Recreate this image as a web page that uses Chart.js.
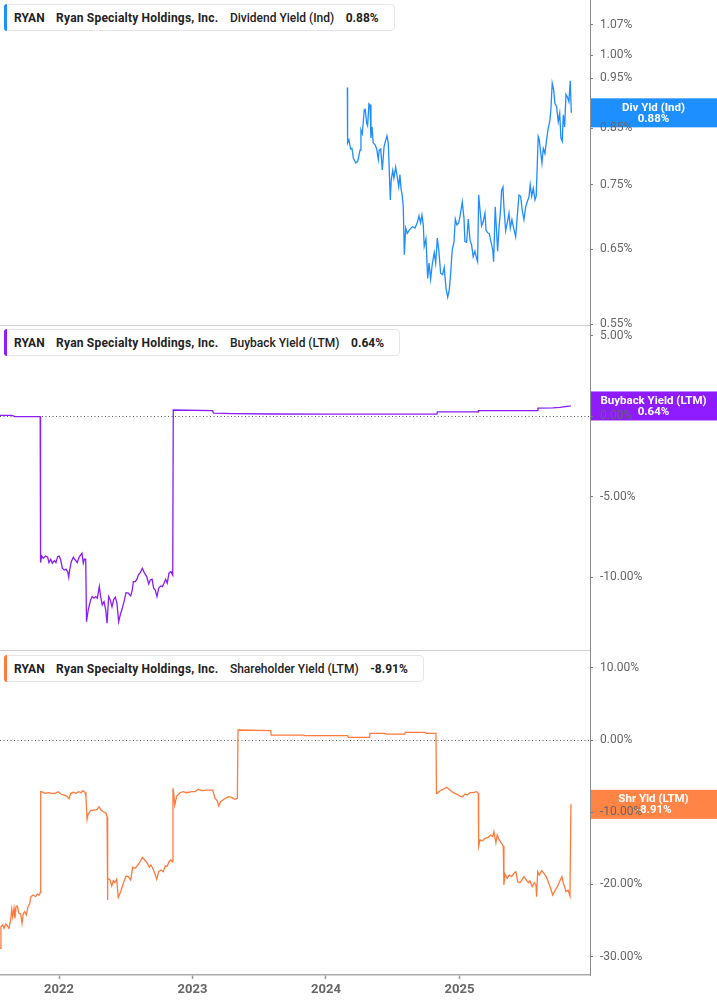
<!DOCTYPE html>
<html>
<head>
<meta charset="utf-8">
<script src="https://cdn.jsdelivr.net/npm/chart.js@4.4.1/dist/chart.umd.min.js"></script>
<style>
  html, body { margin: 0; padding: 0; background: #fff; }
  body { width: 717px; height: 1005px; position: relative; overflow: hidden; font-family: Roboto, "Noto Sans", sans-serif; }
  .pane { position: absolute; left: 0; width: 717px; }
  .legend {
    position: absolute; left: 4px; height: 25px; box-sizing: content-box;
    display: flex; align-items: center; gap: 11.5px;
    padding: 0 15px 0 9px; background: #fff;
    border: 1px solid #e6e6e6; border-radius: 4px;
    font-size: 12px; color: #222; white-space: nowrap; z-index: 5;
  }
  .legend i { position: absolute; left: -1px; top: -1px; bottom: -1px; width: 3px; border-radius: 3px 0 0 3px; }
  .legend b { font-weight: 700; }
  .legend b.co { letter-spacing: 0.2px; }
  .legend span { font-weight: 500; }
</style>
</head>
<body>

<div class="pane" style="top:-15px;height:355px"><canvas id="chartDiv" width="717" height="355"></canvas></div>
<div class="pane" style="top:310px;height:355px"><canvas id="chartBuyback" width="717" height="355"></canvas></div>
<div class="pane" style="top:635px;height:370px"><canvas id="chartShr" width="717" height="370"></canvas></div>

<div class="legend" style="top:4px"><i style="background:#1e8fff"></i><b>RYAN</b><b class="co">Ryan Specialty Holdings, Inc.</b><span>Dividend Yield (Ind)</span><b>0.88%</b></div>
<div class="legend" style="top:329px"><i style="background:#8f1bff"></i><b>RYAN</b><b class="co">Ryan Specialty Holdings, Inc.</b><span>Buyback Yield (LTM)</span><b>0.64%</b></div>
<div class="legend" style="top:655px"><i style="background:#ff7a3d"></i><b>RYAN</b><b class="co">Ryan Specialty Holdings, Inc.</b><span>Shareholder Yield (LTM)</span><b>-8.91%</b></div>

<script>
(function () {
  'use strict';

  // ─── Data (time in fractional years) ─────────────────
  var X_MIN = 2021.558;
  var X_MAX = 2025.978;
  var yearTicks = [2022, 2023, 2024, 2025];

  var divTicks = [1.07, 1.00, 0.95, 0.85, 0.75, 0.65, 0.55];
  var buybackTicks = [5, 0, -5, -10];
  var shrTicks = [10, 0, -10, -20, -30];

  var divTime = [
    2024.160, 2024.162, 2024.172, 2024.185, 2024.195, 2024.205, 2024.223, 2024.238, 2024.255, 2024.262,
    2024.272, 2024.287, 2024.294, 2024.305, 2024.312, 2024.322, 2024.330, 2024.337, 2024.345, 2024.354,
    2024.367, 2024.380, 2024.392, 2024.399, 2024.410, 2024.422, 2024.435, 2024.449, 2024.457, 2024.467,
    2024.474, 2024.482, 2024.489, 2024.500, 2024.509, 2024.522, 2024.534, 2024.545, 2024.554, 2024.562,
    2024.572, 2024.579, 2024.587, 2024.597, 2024.609, 2024.624, 2024.637, 2024.649, 2024.667, 2024.684,
    2024.697, 2024.709, 2024.719, 2024.729, 2024.736, 2024.749, 2024.762, 2024.772, 2024.784, 2024.796,
    2024.811, 2024.822, 2024.834, 2024.846, 2024.859, 2024.874, 2024.886, 2024.899, 2024.912, 2024.924,
    2024.934, 2024.946, 2024.959, 2024.969, 2024.981, 2024.994, 2025.006, 2025.021, 2025.034, 2025.041,
    2025.054, 2025.066, 2025.079, 2025.091, 2025.103, 2025.116, 2025.129, 2025.136, 2025.144, 2025.154,
    2025.166, 2025.178, 2025.191, 2025.199, 2025.211, 2025.223, 2025.236, 2025.249, 2025.256, 2025.268,
    2025.279, 2025.286, 2025.298, 2025.309, 2025.316, 2025.326, 2025.333, 2025.346, 2025.358, 2025.371,
    2025.381, 2025.393, 2025.406, 2025.421, 2025.433, 2025.446, 2025.458, 2025.470, 2025.483, 2025.496,
    2025.508, 2025.521, 2025.530, 2025.541, 2025.553, 2025.566, 2025.575, 2025.583, 2025.590, 2025.598,
    2025.608, 2025.618, 2025.628, 2025.640, 2025.653, 2025.665, 2025.678, 2025.685, 2025.695, 2025.706,
    2025.715, 2025.728, 2025.740, 2025.751, 2025.760, 2025.770, 2025.778, 2025.788, 2025.798, 2025.808,
    2025.820, 2025.830, 2025.838
  ];
  var divValue = [
    0.931, 0.823, 0.829, 0.812, 0.813, 0.796, 0.787, 0.790, 0.810, 0.847,
    0.840, 0.886, 0.887, 0.860, 0.855, 0.898, 0.896, 0.832, 0.853, 0.823,
    0.820, 0.812, 0.793, 0.810, 0.812, 0.775, 0.816, 0.829, 0.836, 0.823,
    0.775, 0.725, 0.758, 0.774, 0.761, 0.780, 0.763, 0.747, 0.767, 0.744,
    0.731, 0.714, 0.642, 0.681, 0.673, 0.678, 0.681, 0.683, 0.681, 0.689,
    0.700, 0.689, 0.701, 0.686, 0.654, 0.665, 0.609, 0.630, 0.608, 0.628,
    0.645, 0.630, 0.666, 0.647, 0.616, 0.614, 0.624, 0.596, 0.584, 0.594,
    0.616, 0.649, 0.660, 0.695, 0.686, 0.689, 0.701, 0.722, 0.696, 0.661,
    0.660, 0.695, 0.663, 0.656, 0.639, 0.647, 0.636, 0.632, 0.733, 0.709,
    0.684, 0.691, 0.704, 0.678, 0.674, 0.673, 0.661, 0.649, 0.632, 0.714,
    0.673, 0.647, 0.686, 0.712, 0.741, 0.746, 0.714, 0.677, 0.689, 0.704,
    0.681, 0.694, 0.681, 0.668, 0.699, 0.733, 0.731, 0.709, 0.694, 0.714,
    0.722, 0.730, 0.750, 0.731, 0.744, 0.725, 0.731, 0.784, 0.835, 0.829,
    0.807, 0.787, 0.813, 0.804, 0.829, 0.850, 0.866, 0.886, 0.940, 0.926,
    0.899, 0.892, 0.863, 0.879, 0.832, 0.826, 0.876, 0.853, 0.917, 0.912,
    0.902, 0.945, 0.880
  ];

  var buybackTime = [
    2021.558, 2021.648, 2021.670, 2021.859, 2021.862, 2021.870, 2021.882, 2021.900, 2021.915, 2021.925,
    2021.938, 2021.950, 2021.965, 2021.977, 2021.990, 2022.002, 2022.013, 2022.025, 2022.040, 2022.052,
    2022.065, 2022.073, 2022.080, 2022.092, 2022.107, 2022.122, 2022.137, 2022.150, 2022.163, 2022.172,
    2022.182, 2022.190, 2022.200, 2022.206, 2022.219, 2022.237, 2022.249, 2022.262, 2022.275, 2022.287,
    2022.302, 2022.312, 2022.324, 2022.337, 2022.350, 2022.360, 2022.372, 2022.384, 2022.397, 2022.410,
    2022.422, 2022.434, 2022.447, 2022.459, 2022.474, 2022.487, 2022.502, 2022.519, 2022.537, 2022.549,
    2022.557, 2022.572, 2022.584, 2022.594, 2022.609, 2022.624, 2022.639, 2022.657, 2022.672, 2022.684,
    2022.697, 2022.709, 2022.721, 2022.734, 2022.747, 2022.762, 2022.774, 2022.787, 2022.799, 2022.811,
    2022.824, 2022.839, 2022.852, 2022.856, 2023.151, 2023.157, 2023.300, 2023.600, 2024.000, 2024.500,
    2024.831, 2024.835, 2025.139, 2025.142, 2025.584, 2025.588, 2025.700, 2025.753, 2025.835
  ];
  var buybackValue = [
    0.05, 0.05, -0.02, -0.02, -9.09, -8.68, -8.82, -8.68, -8.76, -9.09,
    -8.88, -9.13, -8.97, -9.09, -8.72, -8.68, -8.93, -9.44, -9.55, -9.50,
    -9.65, -10.00, -9.55, -9.03, -8.76, -8.93, -9.09, -8.76, -8.61, -8.51,
    -9.13, -8.88, -8.88, -12.76, -12.03, -11.41, -11.20, -11.30, -11.20, -11.30,
    -10.58, -11.20, -11.72, -11.52, -12.03, -12.86, -11.20, -11.41, -11.83, -11.37,
    -11.24, -11.61, -12.76, -12.34, -11.93, -11.52, -10.96, -10.99, -11.16, -10.79,
    -10.27, -10.27, -10.12, -9.86, -9.71, -9.44, -9.71, -9.96, -10.42, -10.17,
    -10.12, -10.68, -10.79, -11.20, -10.68, -10.54, -10.58, -10.37, -10.12, -10.37,
    -9.75, -9.65, -9.86, 0.39, 0.35, 0.19, 0.16, 0.14, 0.13, 0.13,
    0.13, 0.27, 0.27, 0.35, 0.35, 0.50, 0.52, 0.55, 0.64
  ];

  var shrTime = [
    2021.558, 2021.565, 2021.578, 2021.588, 2021.601, 2021.613, 2021.625, 2021.638, 2021.646, 2021.653,
    2021.663, 2021.670, 2021.678, 2021.688, 2021.700, 2021.713, 2021.723, 2021.733, 2021.743, 2021.755,
    2021.768, 2021.780, 2021.790, 2021.807, 2021.825, 2021.837, 2021.852, 2021.860, 2021.863, 2021.870,
    2021.895, 2021.920, 2021.945, 2021.970, 2021.995, 2022.013, 2022.037, 2022.058, 2022.075, 2022.088,
    2022.107, 2022.127, 2022.148, 2022.167, 2022.178, 2022.195, 2022.202, 2022.210, 2022.219, 2022.237,
    2022.262, 2022.287, 2022.300, 2022.315, 2022.332, 2022.352, 2022.360, 2022.362, 2022.367, 2022.382,
    2022.395, 2022.407, 2022.419, 2022.432, 2022.444, 2022.462, 2022.482, 2022.502, 2022.519, 2022.537,
    2022.552, 2022.569, 2022.586, 2022.607, 2022.624, 2022.642, 2022.659, 2022.676, 2022.689, 2022.702,
    2022.717, 2022.732, 2022.747, 2022.764, 2022.781, 2022.796, 2022.811, 2022.824, 2022.837, 2022.849,
    2022.854, 2022.859, 2022.867, 2022.882, 2022.906, 2022.931, 2022.956, 2022.994, 2023.019, 2023.043,
    2023.069, 2023.106, 2023.151, 2023.169, 2023.186, 2023.196, 2023.211, 2023.236, 2023.268, 2023.294,
    2023.318, 2023.336, 2023.341, 2023.586, 2023.590, 2023.835, 2023.839, 2024.163, 2024.166, 2024.327,
    2024.330, 2024.440, 2024.450, 2024.591, 2024.595, 2024.740, 2024.750, 2024.824, 2024.828, 2024.834,
    2024.854, 2024.879, 2024.904, 2024.929, 2024.954, 2024.979, 2025.004, 2025.024, 2025.041, 2025.058,
    2025.079, 2025.103, 2025.129, 2025.141, 2025.144, 2025.154, 2025.174, 2025.191, 2025.216, 2025.234,
    2025.249, 2025.258, 2025.273, 2025.283, 2025.298, 2025.316, 2025.328, 2025.333, 2025.341, 2025.358,
    2025.373, 2025.391, 2025.408, 2025.423, 2025.436, 2025.453, 2025.471, 2025.483, 2025.498, 2025.516,
    2025.528, 2025.545, 2025.560, 2025.573, 2025.578, 2025.586, 2025.598, 2025.616, 2025.633, 2025.648,
    2025.665, 2025.683, 2025.698, 2025.716, 2025.733, 2025.753, 2025.768, 2025.778, 2025.788, 2025.798,
    2025.813, 2025.828, 2025.835
  ];
  var shrValue = [
    -28.85, -25.86, -25.62, -26.08, -25.48, -25.76, -26.08, -24.93, -23.45, -24.47,
    -23.31, -24.70, -23.09, -22.99, -24.00, -24.10, -25.39, -24.00, -23.78, -24.24,
    -23.09, -22.71, -21.70, -21.47, -21.70, -21.33, -21.47, -21.15, -7.16, -7.16,
    -7.38, -7.30, -7.38, -7.38, -7.16, -7.48, -7.62, -7.76, -8.13, -7.38,
    -7.24, -7.38, -7.16, -7.30, -7.02, -7.24, -7.85, -10.98, -10.25, -9.79,
    -9.70, -9.60, -9.24, -9.70, -9.93, -10.15, -10.62, -22.16, -19.16, -19.39,
    -20.22, -19.49, -19.76, -19.29, -21.79, -21.01, -19.85, -18.84, -18.93, -19.39,
    -17.63, -17.77, -17.45, -16.86, -16.25, -16.62, -16.99, -17.63, -17.31, -17.77,
    -18.46, -19.29, -18.24, -18.01, -18.24, -17.45, -17.45, -16.86, -16.62, -16.86,
    -6.69, -7.30, -9.00, -7.76, -7.30, -7.16, -7.30, -7.16, -7.16, -6.83,
    -7.02, -6.93, -6.93, -8.07, -8.41, -9.14, -8.55, -8.21, -7.85, -7.94,
    -8.21, -8.07, 1.39, 1.30, 0.69, 0.69, 0.60, 0.60, 0.37, 0.37,
    0.93, 0.93, 0.83, 0.83, 1.07, 1.07, 0.93, 0.93, -7.38, -7.38,
    -7.02, -6.83, -6.55, -6.93, -7.30, -7.48, -7.76, -7.85, -7.48, -7.62,
    -7.30, -7.30, -7.16, -7.38, -14.68, -13.85, -13.95, -13.61, -13.48, -13.16,
    -13.39, -12.70, -14.22, -13.16, -13.85, -14.31, -14.68, -20.08, -18.56, -19.16,
    -18.70, -18.93, -18.46, -18.24, -19.63, -19.76, -19.29, -18.93, -19.29, -19.76,
    -19.49, -20.32, -19.76, -20.08, -21.70, -18.24, -18.70, -18.10, -18.46, -18.84,
    -19.63, -20.54, -21.47, -20.87, -20.32, -19.49, -18.93, -19.85, -20.32, -21.01,
    -20.78, -21.61, -8.91
  ];

  // ─── Helpers ──────────────────────────────────────────
  var FONT = 'Roboto, "Noto Sans", sans-serif';

  function toPoints(t, v) {
    return t.map(function (x, i) { return { x: x, y: v[i] }; });
  }

  function pct(v) { return Number(v).toFixed(2) + '%'; }

  // Tag with the last value at the right axis (drawn under the tick labels)
  var lastTagPlugin = {
    id: 'lastTag',
    beforeDraw: function (chart, args, o) {
      if (!o || !o.title) return;
      var data = chart.data.datasets[0].data;
      var last = data[data.length - 1];
      var y = chart.scales.y.getPixelForValue(last.y);
      var a = chart.chartArea;
      var ctx = chart.ctx;
      var cx = (a.right + chart.width) / 2;
      ctx.save();
      ctx.fillStyle = o.color;
      ctx.fillRect(a.right + 1, y - 14.5, chart.width - a.right, 29);
      ctx.fillStyle = '#ffffff';
      ctx.font = 'bold 11.5px ' + FONT;
      ctx.textAlign = 'center';
      ctx.textBaseline = 'middle';
      ctx.fillText(o.title, cx, y - 5);
      ctx.fillText(pct(last.y), cx, y + 6);
      ctx.restore();
    }
  };

  // Dotted zero line and panel divider
  var guidesPlugin = {
    id: 'guides',
    beforeDatasetsDraw: function (chart, args, o) {
      var a = chart.chartArea;
      var ctx = chart.ctx;
      ctx.save();
      if (o.zero) {
        var y0 = Math.round(chart.scales.y.getPixelForValue(0)) + 0.5;
        ctx.strokeStyle = '#555';
        ctx.lineWidth = 1;
        ctx.setLineDash([1, 2.5]);
        ctx.beginPath();
        ctx.moveTo(a.left, y0);
        ctx.lineTo(a.right, y0);
        ctx.stroke();
        ctx.setLineDash([]);
      }
      if (o.divider) {
        var yb = Math.round(a.bottom) + 0.5;
        ctx.strokeStyle = '#cfcfcf';
        ctx.lineWidth = 1;
        ctx.beginPath();
        ctx.moveTo(a.left, yb);
        ctx.lineTo(a.right, yb);
        ctx.stroke();
      }
      ctx.restore();
    }
  };

  function yScale(type, min, max, ticks) {
    return {
      type: type,
      position: 'right',
      min: min,
      max: max,
      afterFit: function (s) { s.width = 127; },
      afterBuildTicks: function (s) {
        s.ticks = ticks.map(function (v) { return { value: v }; });
      },
      grid: { drawOnChartArea: false, drawTicks: true, tickLength: 3, tickColor: '#777', tickWidth: 1 },
      border: { display: true, color: '#8c8c8c', width: 1 },
      ticks: {
        color: '#666',
        font: { family: FONT, size: 12 },
        padding: 7,
        autoSkip: false,
        callback: function (v) { return pct(v); }
      }
    };
  }

  function xScale(show) {
    return {
      type: 'linear',
      min: X_MIN,
      max: X_MAX,
      display: show,
      afterFit: function (s) { s.height = show ? 30 : 0; },
      afterBuildTicks: function (s) {
        s.ticks = yearTicks.map(function (v) { return { value: v }; });
      },
      grid: { drawOnChartArea: false, drawTicks: true, tickLength: 4, tickColor: '#999', tickWidth: 1.5 },
      border: { display: true, color: '#aaaaaa', width: 1.5 },
      ticks: {
        color: '#666',
        font: { family: FONT, size: 13, weight: 'bold' },
        padding: 3,
        maxRotation: 0,
        autoSkip: false,
        callback: function (v) { return String(v); }
      }
    };
  }

  function makePanel(id, cfg) {
    return new Chart(document.getElementById(id), {
      type: 'line',
      data: {
        datasets: [{
          data: toPoints(cfg.time, cfg.values),
          borderColor: cfg.color,
          borderWidth: 1.3,
          pointRadius: 0,
          tension: 0,
          fill: false
        }]
      },
      options: {
        responsive: false,
        animation: false,
        parsing: false,
        layout: { padding: { top: 15, bottom: cfg.bottomPad, left: 0, right: 0 } },
        plugins: {
          legend: { display: false },
          tooltip: { enabled: false },
          lastTag: { title: cfg.tag, color: cfg.tagColor },
          guides: { zero: cfg.zero, divider: cfg.divider }
        },
        scales: {
          x: xScale(cfg.showX),
          y: yScale(cfg.yType, cfg.yMin, cfg.yMax, cfg.ticks)
        }
      },
      plugins: [guidesPlugin, lastTagPlugin]
    });
  }

  // ─── Panels ──────────────────────────────────────────
  window.chartDiv = makePanel('chartDiv', {
    time: divTime, values: divValue, color: '#1f8cff',
    tag: 'Div Yld (Ind)', tagColor: '#1e8fff',
    yType: 'logarithmic', yMin: 0.549, yMax: 1.131, ticks: divTicks,
    zero: false, divider: true, showX: false, bottomPad: 15
  });

  window.chartBuyback = makePanel('chartBuyback', {
    time: buybackTime, values: buybackValue, color: '#8a1cf5',
    tag: 'Buyback Yield (LTM)', tagColor: '#8f1bff',
    yType: 'linear', yMin: -14.52, yMax: 5.67, ticks: buybackTicks,
    zero: true, divider: true, showX: false, bottomPad: 15
  });

  window.chartShr = makePanel('chartShr', {
    time: shrTime, values: shrValue, color: '#ff7a3d',
    tag: 'Shr Yld (LTM)', tagColor: '#ff8445',
    yType: 'linear', yMin: -32.55, yMax: 12.47, ticks: shrTicks,
    zero: true, divider: false, showX: true, bottomPad: 0
  });
})();
</script>
</body>
</html>
